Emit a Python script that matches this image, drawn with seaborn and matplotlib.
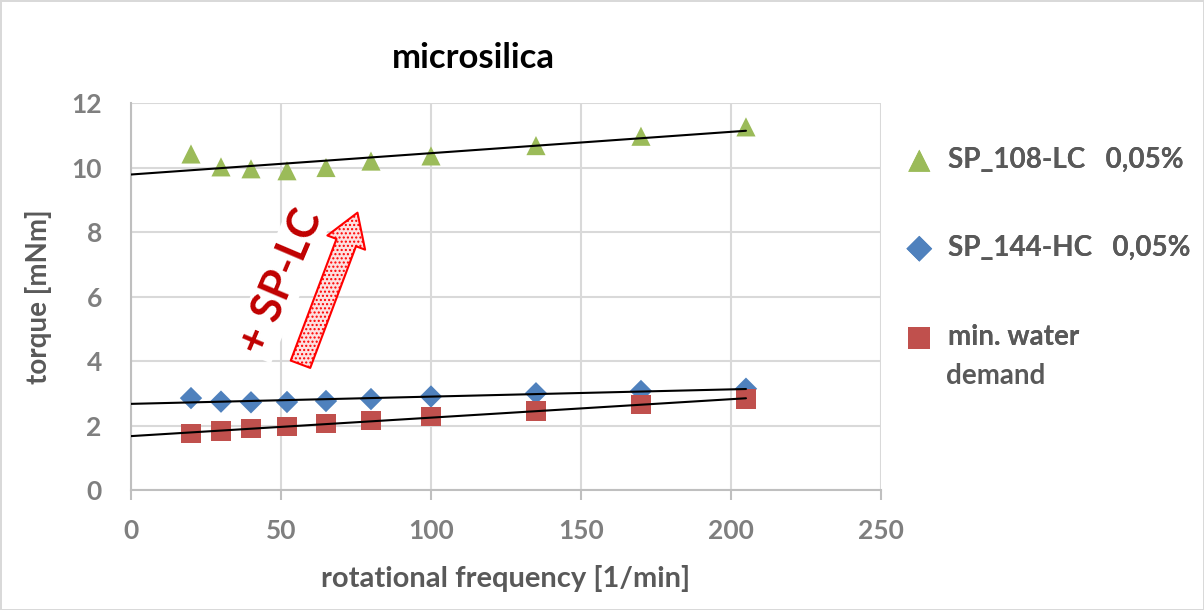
import numpy as np
import pandas as pd
import seaborn as sns
import matplotlib.pyplot as plt
import matplotlib.patches as mpatches

# rotational frequency [1/min]
freq = [20, 30, 40, 52, 65, 80, 100, 135, 170, 205]

# torque [mNm]
torque_sp108 = [10.42, 10.02, 9.96, 9.90, 10.00, 10.20, 10.36, 10.68, 10.97, 11.26]
torque_sp144 = [2.85, 2.74, 2.72, 2.73, 2.76, 2.82, 2.90, 3.00, 3.07, 3.14]
torque_water = [1.74, 1.83, 1.90, 1.98, 2.07, 2.15, 2.27, 2.45, 2.64, 2.82]

labels = ["SP_108-LC   0,05%", "SP_144-HC   0,05%", "min. water"]
label_wrap = "demand"  # second line of the last legend entry
colors = ["#9BBB59", "#4F81BD", "#C0504D"]
markers = ["^", "D", "s"]
sizes = [190, 130, 190]

TXT = "#595959"
TICK = "#7F7F7F"
GRID = "#D9D9D9"
SPINE = "#BFBFBF"

sns.set_theme(style="white")
plt.rcParams["font.family"] = ["Lato", "DejaVu Sans"]
plt.rcParams["hatch.color"] = "#FF8080"

fig = plt.figure(figsize=(12.04, 6.10), dpi=100)
fig.patch.set_edgecolor(GRID)
fig.patch.set_linewidth(2)
ax = fig.add_axes([0.1088, 0.1967, 0.6229, 0.6344])

series = [torque_sp108, torque_sp144, torque_water]
for vals, lab, col, mk, sz in zip(series, labels, colors, markers, sizes):
    df = pd.DataFrame({"freq": freq, "torque": vals})
    sns.scatterplot(data=df, x="freq", y="torque", marker=mk, color=col, s=sz,
                    edgecolor="none", linewidth=0, label=lab, ax=ax, zorder=3)
    k, d = np.polyfit(freq, vals, 1)
    xs = np.array([0, max(freq)])
    ax.plot(xs, k * xs + d, color="black", lw=1.5, zorder=4)

ax.set_xlim(0, 250)
ax.set_ylim(0, 12)
ax.set_xticks(np.arange(0, 251, 50))
ax.set_yticks(np.arange(0, 13, 2))
ax.grid(True, color=GRID, lw=1.5)
ax.set_axisbelow(True)
for s in ["top", "right"]:
    ax.spines[s].set_visible(False)
for s in ["left", "bottom"]:
    ax.spines[s].set_color(SPINE)
    ax.spines[s].set_linewidth(1.5)
ax.tick_params(axis="x", bottom=True, direction="out", length=7, width=1.5, color=SPINE,
               pad=14, labelsize=19, labelcolor=TICK)
ax.tick_params(axis="y", length=0, pad=21, labelsize=19, labelcolor=TICK)
for t in ax.get_xticklabels() + ax.get_yticklabels():
    t.set_fontweight("bold")

ax.set_xlabel("rotational frequency [1/min]", fontsize=21, fontweight="bold", color=TXT, labelpad=16)
ax.set_ylabel("torque [mNm]", fontsize=20, fontweight="bold", color=TXT, labelpad=14)
fig.text(0.393, 0.905, "microsilica", ha="center", va="center", fontsize=25,
         fontweight="bold", color="black")

# hatched arrow + annotation
arrow = mpatches.FancyArrowPatch((56.5, 3.9), (75.5, 8.6),
                                 arrowstyle="simple,tail_width=15,head_width=29,head_length=23",
                                 mutation_scale=1, shrinkA=0, shrinkB=0,
                                 facecolor="#FCE0E0", edgecolor="#FF0000", lw=1.5,
                                 hatch="....", zorder=5)
ax.add_patch(arrow)
ax.text(50.0, 6.45, "+ SP-LC", rotation=67, ha="center", va="center", fontsize=31,
        fontweight="bold", color="#C00000", zorder=6,
        bbox=dict(facecolor="white", edgecolor="none", pad=2))

# one legend per entry so the rows sit where the reference puts them
handles, labs = ax.get_legend_handles_labels()
ax.legend().remove()
row_y = [1 - 160 / 610, 1 - 248 / 610, 1 - 337 / 610]
for h, lab, yc in zip(handles, labs, row_y):
    leg = fig.legend([h], [lab], loc="center left", bbox_to_anchor=(0.752, yc),
                     frameon=False, fontsize=20, handlelength=1.0, handletextpad=0.55,
                     markerscale=1.15, borderaxespad=0, borderpad=0)
    for t in leg.get_texts():
        t.set_color(TXT)
        t.set_fontweight("bold")
    fig.add_artist(leg)

fig.text(946 / 1204, 1 - 376 / 610, label_wrap, ha="left", va="center", fontsize=20,
         fontweight="bold", color=TXT)

fig.savefig("out.png", dpi=100)
